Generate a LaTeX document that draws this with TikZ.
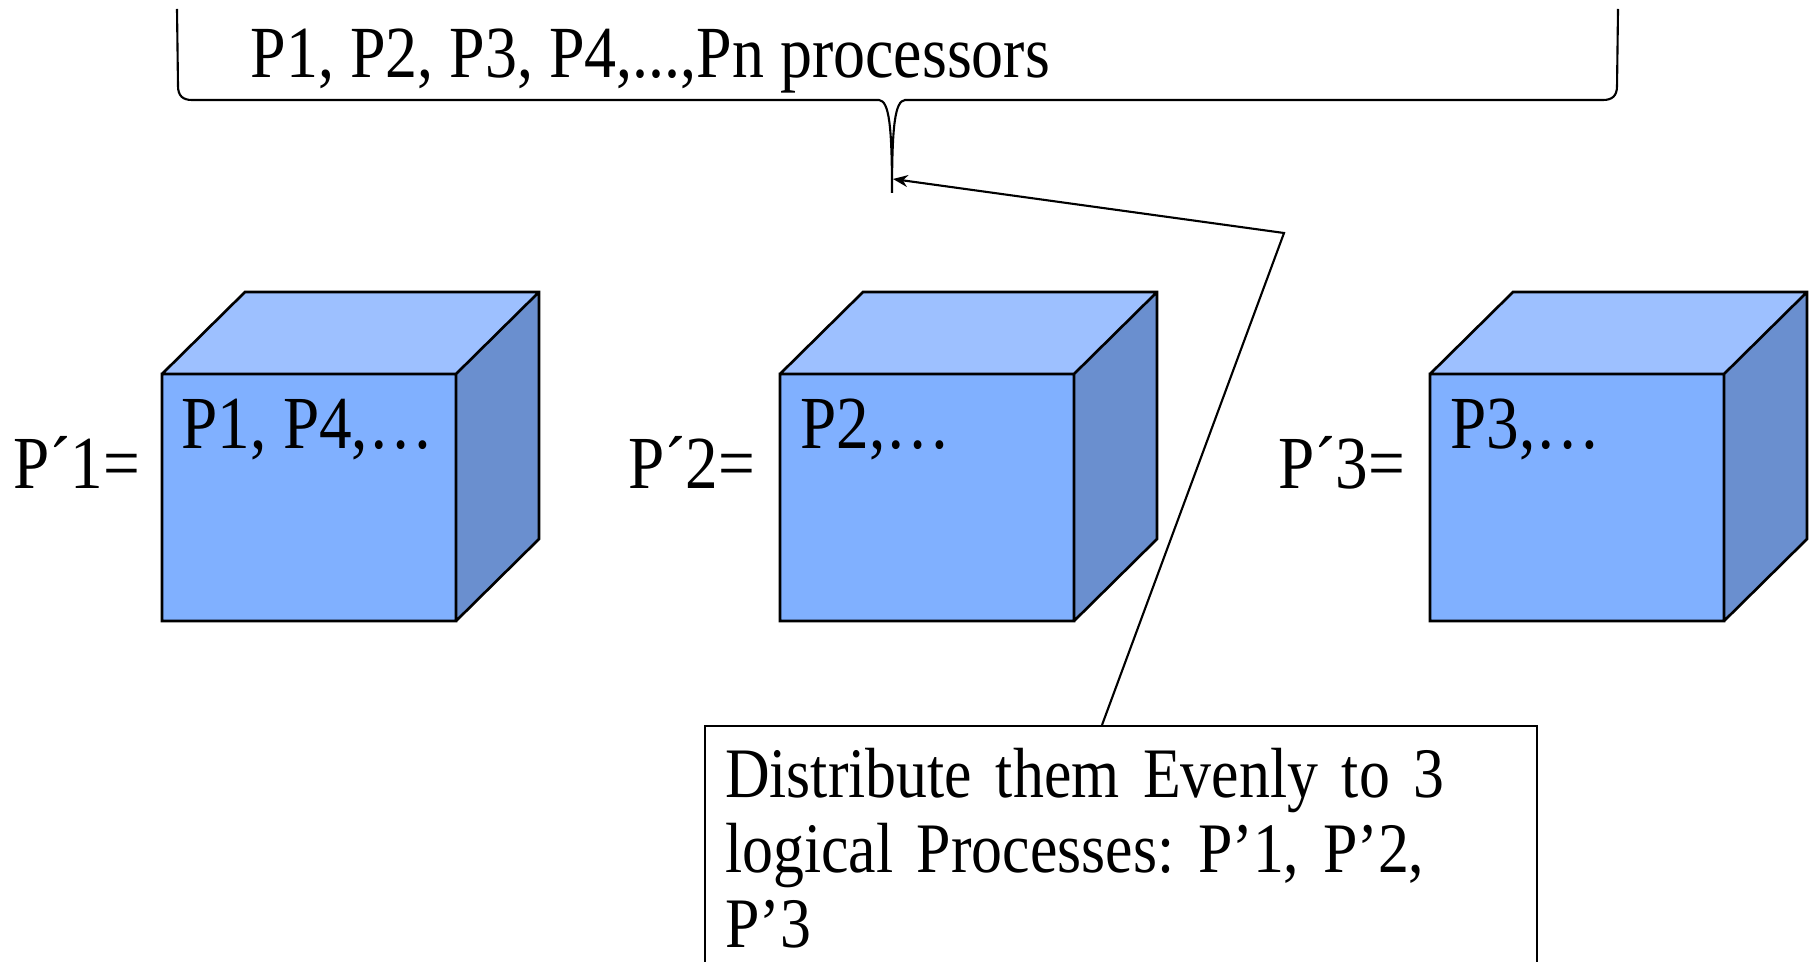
\documentclass[tikz,border=0pt]{standalone}
\usepackage{fontspec}
\setmainfont[FakeStretch=0.87]{Liberation Serif}
\usetikzlibrary{arrows.meta}
\definecolor{cubefront}{RGB}{128,176,255}
\definecolor{cubetop}{RGB}{157,192,255}
\definecolor{cubeside}{RGB}{106,143,207}
% #1 = left x of the front face, #2 = name of its top left corner
\newcommand{\cube}[2]{\fill[cubefront] (#1,374) rectangle (#1+294,621); \fill[cubetop] (#1,374) -- (#1+83,292) -- (#1+377,292) -- (#1+294,374) -- cycle; \fill[cubeside] (#1+294,374) -- (#1+377,292) -- (#1+377,539) -- (#1+294,621) -- cycle; \draw[cubeedge] (#1,374) rectangle (#1+294,621) (#1,374) -- (#1+83,292) -- (#1+377,292) -- (#1+377,539) -- (#1+294,621) (#1+294,374) -- (#1+377,292); \coordinate (#2) at (#1,374);}
\tikzset{
  cubeedge/.style={black, line width=0.75pt, line join=miter},
  bigtext/.style={inner sep=0pt, font=\fontsize{20.9pt}{24pt}\selectfont},
  cubetext/.style={inner sep=0pt, font=\fontsize{21.3pt}{24pt}\selectfont},
  notebox/.style={draw, line width=0.6pt, align=left, text width=7.91cm, inner xsep=0.2cm, inner ysep=0.22cm, font=\fontsize{20.2pt}{21.3pt}\selectfont\frenchspacing},
  callout/.style={line width=0.6pt, -{Stealth[length=4.2pt, width=3.4pt]}}
}
\begin{document}
\begin{tikzpicture}[x=0.01cm, y=-0.01cm]
    \useasboundingbox (0,0) rectangle (1810,961);
    \clip (0,0) rectangle (1810,961);
    % brace
    \draw[line width=0.6pt] (177,9) -- (178,86) .. controls (178,96) and (183,100) .. (192,100) -- (879,100) .. controls (889,101) and (892,125) .. (892,193) .. controls (892,125) and (895,101) .. (905,100) -- (1603,100) .. controls (1612,100) and (1617,96) .. (1617,86) -- (1618,9);
    \coordinate (tip) at (893,179);
    \node[bigtext, anchor=base west] (all) at (250,78) {P1, P2, P3, P4,...,Pn processors};
    % cubes
    \cube{162}{c1}
    \cube{780}{c2}
    \cube{1430}{c3}
    \node[cubetext, anchor=base east] (l1) at (141,488) {P´1=};
    \node[cubetext, anchor=base east] (l2) at (756,488) {P´2=};
    \node[cubetext, anchor=base east] (l3) at (1406,488) {P´3=};
    \node[cubetext, anchor=base west] (in1) at (181,448) {P1, P4,…};
    \node[cubetext, anchor=base west] (in2) at (800,448) {P2,…};
    \node[cubetext, anchor=base west] (in3) at (1450,448) {P3,…};
    % note
    \node[notebox, anchor=north west] (note) at (704,725) {Distribute them Evenly to 3\\logical Processes: P’1, P’2,\\P’3};
    \coordinate (hook) at (1102,725);
    \coordinate (bend) at (1284,233);
    \draw[callout] (hook) -- (bend) -- (tip);
\end{tikzpicture}
\end{document}
